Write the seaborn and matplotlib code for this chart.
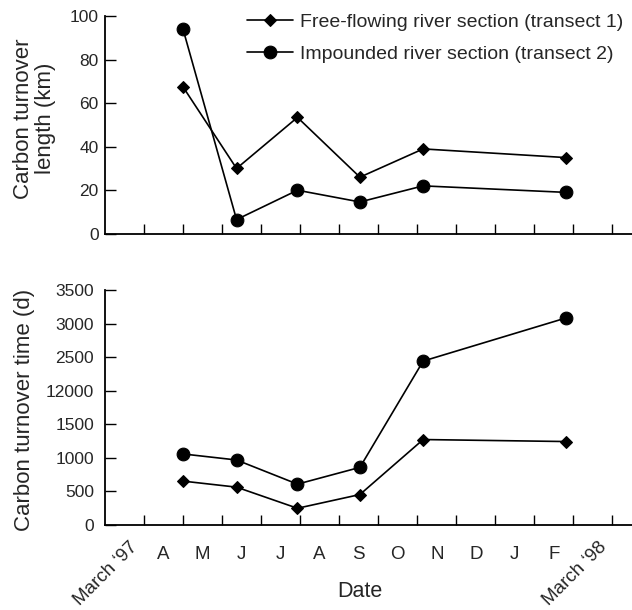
import numpy as np
import pandas as pd
import matplotlib
matplotlib.use("Agg")
import matplotlib.pyplot as plt
import matplotlib.transforms as mtransforms
import seaborn as sns

# ---------------- data ----------------
month_labels = ["March \u201897", "A", "M", "J", "J", "A", "S", "O", "N", "D", "J", "F", "March \u201898"]
# sampling dates, in months since start of March 1997
sample_months = [2.0, 3.37, 4.93, 6.53, 8.15, 11.82]
length_free = [67.5, 30.0, 53.5, 26.0, 39.0, 35.0]
length_imp = [94.0, 6.5, 20.0, 14.6, 22.0, 19.0]
time_free = [650, 560, 245, 450, 1270, 1240]
time_imp = [1055, 965, 605, 855, 2440, 3085]
length_ticks = [0, 20, 40, 60, 80, 100]
time_ticks = [0, 500, 1000, 1500, 2000, 2500, 3000, 3500]
time_tick_labels = ["0", "500", "1000", "1500", "12000", "2500", "3000", "3500"]
series_names = ["Free-flowing river section (transect 1)",
                "Impounded river section (transect 2)"]

sns.set_style("ticks")
plt.rcParams["font.family"] = ["Liberation Sans", "DejaVu Sans"]

fig = plt.figure(figsize=(6.32, 6.10), dpi=100)
W, H = 632.0, 610.0
left_px, right_px = 105.0, 632.0
ax1 = fig.add_axes([left_px / W, 1 - 233.7 / H, (right_px - left_px) / W, (233.7 - 16.3) / H])
ax2 = fig.add_axes([left_px / W, 1 - 524.7 / H, (right_px - left_px) / W, (524.7 - 290.0) / H])

df_len = pd.DataFrame({"month": sample_months, "free": length_free, "imp": length_imp})
df_time = pd.DataFrame({"month": sample_months, "free": time_free, "imp": time_imp})

lw = 1.2
for ax, df in [(ax1, df_len), (ax2, df_time)]:
    sns.lineplot(data=df, x="month", y="free", ax=ax, color="black", lw=lw,
                 marker="D", markersize=6.5, markeredgecolor="black",
                 markerfacecolor="black", label=series_names[0], legend=False)
    sns.lineplot(data=df, x="month", y="imp", ax=ax, color="black", lw=lw,
                 marker="o", markersize=9.2, markeredgecolor="black",
                 markerfacecolor="black", label=series_names[1], legend=False)

n_months = len(month_labels)
major = np.arange(1, n_months + 1)
centers = np.arange(n_months) + 0.5

for ax in (ax1, ax2):
    sns.despine(ax=ax)
    for s in ("left", "bottom"):
        ax.spines[s].set_linewidth(1.3)
        ax.spines[s].set_color("black")
    ax.set_xlim(0, 13.5)
    ax.set_xticks(major)
    ax.set_xticklabels([""] * len(major))
    ax.tick_params(axis="x", which="major", direction="in", length=7.5, width=1.0, color="black")
    ax.tick_params(axis="y", which="major", direction="in", length=8, width=1.0,
                   color="black", labelsize=12.5)
    ax.set_xlabel("")

ax1.tick_params(axis="y", pad=4.5)
ax2.tick_params(axis="y", pad=8)

ax1.set_ylim(0, 100)
ax1.set_yticks(length_ticks)
ax1.set_yticklabels([str(v) for v in length_ticks])
ax1.set_ylabel("Carbon turnover\nlength (km)", fontsize=16, linespacing=1.05)
ax1.yaxis.set_label_coords(-0.093, 0.53)

ax2.set_ylim(0, 3500)
ax2.set_yticks(time_ticks)
ax2.set_yticklabels(time_tick_labels)
ax2.set_ylabel("Carbon turnover time (d)", fontsize=16)
ax2.yaxis.set_label_coords(-0.133, 0.49)

ax2.set_xticks(centers, minor=True)
ax2.set_xticklabels(month_labels, minor=True)
ax2.tick_params(axis="x", which="minor", length=0, labelsize=13.5, pad=15.5)
ax1.tick_params(axis="x", which="minor", length=0)
ax2.set_xlabel("Date", fontsize=15.5)
ax2.xaxis.set_label_coords(0.484, -0.24)

for i, lab in enumerate(ax2.get_xticklabels(minor=True)):
    if i == 0 or i == n_months - 1:
        lab.set_rotation(45)
        lab.set_ha("right")
        lab.set_va("top")
        lab.set_rotation_mode("anchor")
        lab.set_fontsize(13.5)
        lab.set_transform(lab.get_transform() +
                          mtransforms.ScaledTranslation(5 / 100, 8 / 100, fig.dpi_scale_trans))

handles, labels = ax1.get_legend_handles_labels()
leg = fig.legend(handles, labels, loc="upper left",
                 bbox_to_anchor=(247 / W, 1 - 13 / H), frameon=False,
                 fontsize=14, handlelength=2.35, handletextpad=0.35,
                 borderpad=0, borderaxespad=0, labelspacing=0.75)

fig.savefig("out.png", dpi=100)
